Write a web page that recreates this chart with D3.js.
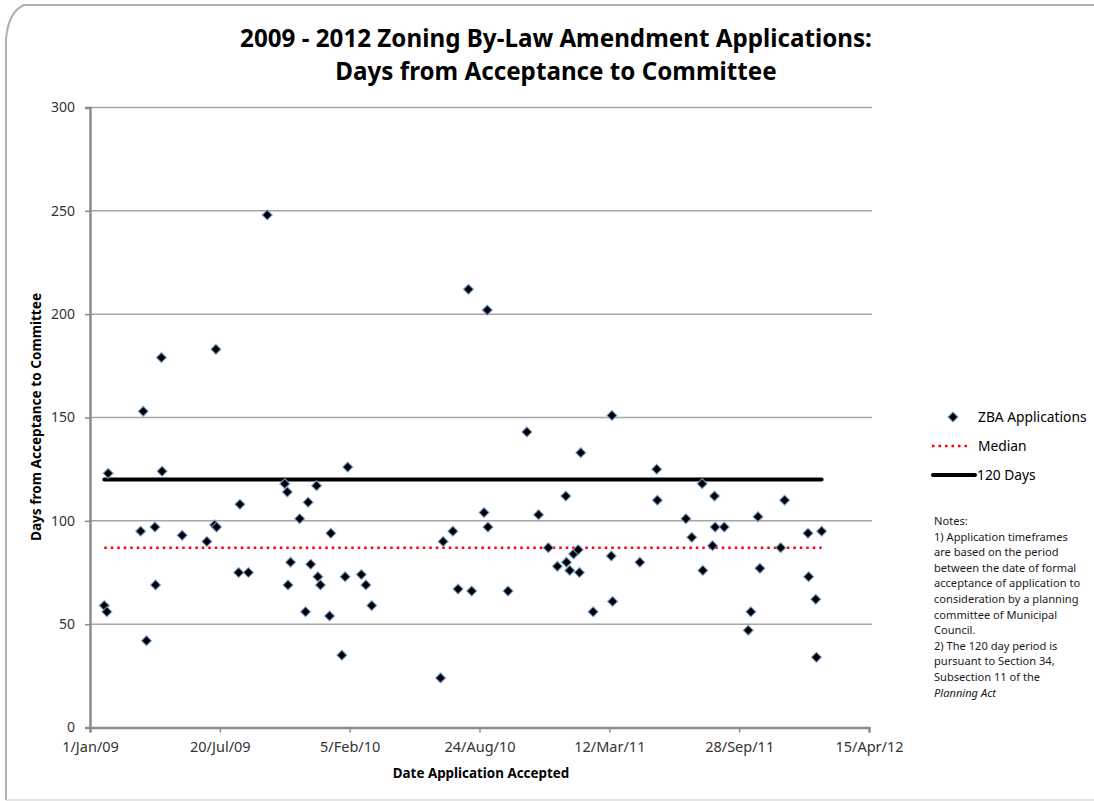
<!DOCTYPE html>
<html>
<head>
<meta charset="utf-8">
<script src="https://cdn.jsdelivr.net/npm/d3@7"></script>
<style>
  html, body { margin: 0; padding: 0; background: #fff; }
  svg { display: block; font-family: 'Noto Sans', sans-serif; }
</style>
</head>
<body>
<div id="chart"></div>
<script>
// Application acceptance dates and days to committee
const appDates = [
  '2009-01-23', '2009-01-27', '2009-01-29', '2009-03-20', '2009-03-24', '2009-03-29',
  '2009-04-11', '2009-04-12', '2009-04-22', '2009-04-21', '2009-05-23', '2009-06-30',
  '2009-07-12', '2009-07-15', '2009-07-14', '2009-08-20', '2009-08-18', '2009-09-02',
  '2009-10-01', '2009-10-28', '2009-11-01', '2009-11-06', '2009-11-02', '2009-11-20',
  '2009-12-03', '2009-12-16', '2009-11-29', '2009-12-07', '2009-12-18', '2009-12-22',
  '2010-01-07', '2010-01-05', '2010-02-02', '2010-01-29', '2010-01-24', '2010-02-23',
  '2010-03-02', '2010-03-11', '2010-06-25', '2010-06-29', '2010-07-14', '2010-07-22',
  '2010-08-12', '2010-08-07', '2010-08-31', '2010-09-06', '2010-09-05', '2010-10-07',
  '2010-11-05', '2010-11-23', '2010-12-08', '2010-12-22', '2011-01-04', '2011-01-05',
  '2011-01-10', '2011-01-16', '2011-01-23', '2011-01-25', '2011-01-27', '2011-02-15',
  '2011-03-16', '2011-03-15', '2011-03-17', '2011-04-28', '2011-05-24', '2011-05-25',
  '2011-07-08', '2011-07-17', '2011-08-02', '2011-08-03', '2011-08-21', '2011-08-22',
  '2011-08-18', '2011-09-05', '2011-10-12', '2011-10-16', '2011-10-27', '2011-10-30',
  '2011-12-01', '2011-12-07', '2012-01-12', '2012-01-13', '2012-01-24', '2012-01-25',
  '2012-02-02'
];
const appDays = [
  59, 56, 123, 95, 153, 42,
  97, 69, 124, 179, 93, 90,
  98, 97, 183, 108, 75, 75,
  248, 118, 114, 80, 69, 101,
  109, 117, 56, 79, 73, 69,
  94, 54, 126, 73, 35, 74,
  69, 59, 24, 90, 95, 67,
  66, 212, 104, 97, 202, 66,
  143, 103, 87, 78, 112, 80,
  76, 84, 86, 75, 133, 56,
  151, 83, 61, 80, 125, 110,
  101, 92, 118, 76, 112, 97,
  88, 97, 47, 56, 102, 77,
  87, 110, 94, 73, 62, 34,
  95
];
const medianDays = 87;
const targetDays = 120;

const xTickDates = ['2009-01-01', '2009-07-20', '2010-02-05', '2010-08-24', '2011-03-12', '2011-09-28', '2012-04-15'];
const yTicks = [0, 50, 100, 150, 200, 250, 300];

const titleLines = ['2009 - 2012 Zoning By-Law Amendment Applications:', 'Days from Acceptance to Committee'];
const legendLabels = ['ZBA Applications', 'Median', '120 Days'];
const noteLines = [
  'Notes:',
  '1) Application timeframes',
  'are based on the period',
  'between the date of formal',
  'acceptance of application to',
  'consideration by a planning',
  'committee of Municipal',
  'Council.',
  '2) The 120 day period is',
  'pursuant to Section 34,',
  'Subsection 11 of the'
];
const noteItalic = 'Planning Act';

const W = 1094, H = 801;
const margin = { top: 107.5, left: 90, right: 225, bottom: 73.5 };
const parse = d3.timeParse('%Y-%m-%d');
const fmt = d3.timeFormat('%-d/%b/%y');

const points = appDates.map((d, i) => ({ date: parse(d), days: appDays[i] }));
const tickDates = xTickDates.map(parse);

const svg = d3.select('#chart').append('svg').attr('width', W).attr('height', H);

// outer frame
svg.append('path')
  .attr('d', `M6,${H - 1} L6,40 Q8,12 24,5 L${W},5`)
  .attr('fill', 'none').attr('stroke', '#b0b0b0').attr('stroke-width', 2);
svg.append('path')
  .attr('d', `M6,${H - 1} L${W},${H - 1}`)
  .attr('fill', 'none').attr('stroke', '#c8c8c8').attr('stroke-width', 1);

const x = d3.scaleTime()
  .domain([tickDates[0], tickDates[tickDates.length - 1]])
  .range([margin.left, W - margin.right]);
const y = d3.scaleLinear().domain([0, 300]).range([H - margin.bottom, margin.top]);

// title
svg.append('g').selectAll('text').data(titleLines).join('text')
  .attr('x', 556).attr('y', (d, i) => 47 + i * 33)
  .attr('text-anchor', 'middle')
  .attr('font-size', 24.2).attr('font-weight', 'bold').attr('fill', '#000')
  .text(d => d);

// gridlines
svg.append('g').selectAll('line').data(yTicks.filter(t => t > 0)).join('line')
  .attr('x1', margin.left).attr('x2', W - margin.right + 3)
  .attr('y1', d => y(d)).attr('y2', d => y(d))
  .attr('stroke', '#a6a6a6').attr('stroke-width', 1.5);

// y axis
const yAxis = svg.append('g')
  .attr('transform', `translate(${margin.left},0)`)
  .call(d3.axisLeft(y).tickValues(yTicks).tickSize(5).tickPadding(10));
yAxis.select('.domain').attr('stroke', '#8c8c8c').attr('stroke-width', 2.5);
yAxis.selectAll('.tick line').attr('stroke', '#8c8c8c').attr('stroke-width', 1.5);
yAxis.selectAll('.tick text').attr('font-size', 14).attr('fill', '#333').attr('font-family', 'Noto Sans');

// x axis
const xAxis = svg.append('g')
  .attr('transform', `translate(0,${y(0)})`)
  .call(d3.axisBottom(x).tickValues(tickDates).tickFormat(fmt).tickSize(5).tickPadding(9));
xAxis.select('.domain').attr('stroke', '#8c8c8c').attr('stroke-width', 2.5);
xAxis.selectAll('.tick line').attr('stroke', '#8c8c8c').attr('stroke-width', 1.5);
xAxis.selectAll('.tick text').attr('font-size', 14.5).attr('fill', '#333').attr('font-family', 'Noto Sans');

// axis titles
svg.append('text')
  .attr('x', 481).attr('y', 778)
  .attr('text-anchor', 'middle').attr('font-size', 13.4).attr('font-weight', 'bold')
  .text('Date Application Accepted');
svg.append('text')
  .attr('transform', 'translate(41,417) rotate(-90)')
  .attr('text-anchor', 'middle').attr('font-size', 13.6).attr('font-weight', 'bold')
  .text('Days from Acceptance to Committee');

// reference lines span the data range
const [d0, d1] = d3.extent(points, d => d.date);
svg.append('line')
  .attr('x1', x(d0)).attr('x2', x(d1))
  .attr('y1', y(medianDays)).attr('y2', y(medianDays))
  .attr('stroke', '#ff0000').attr('stroke-width', 2.5).attr('stroke-dasharray', '2.5,4');
svg.append('line')
  .attr('x1', x(d0)).attr('x2', x(d1))
  .attr('y1', y(targetDays)).attr('y2', y(targetDays))
  .attr('stroke', '#000').attr('stroke-width', 4).attr('stroke-linecap', 'round');

// diamonds
const diamond = d3.symbol().type(d3.symbolSquare).size(50);
svg.append('g').selectAll('path').data(points).join('path')
  .attr('d', diamond)
  .attr('transform', d => `translate(${x(d.date)},${y(d.days)}) rotate(45)`)
  .attr('fill', '#000').attr('stroke', '#7ea6d8').attr('stroke-width', 1.2).attr('stroke-opacity', 0.8);

// legend
const legend = svg.append('g');
legend.append('path')
  .attr('d', diamond)
  .attr('transform', 'translate(953,417) rotate(45)')
  .attr('fill', '#000').attr('stroke', '#7ea6d8').attr('stroke-width', 1.2);
legend.append('line')
  .attr('x1', 932).attr('x2', 970).attr('y1', 446).attr('y2', 446)
  .attr('stroke', '#ff0000').attr('stroke-width', 2.5).attr('stroke-dasharray', '2.5,4');
legend.append('line')
  .attr('x1', 933).attr('x2', 975).attr('y1', 475).attr('y2', 475)
  .attr('stroke', '#000').attr('stroke-width', 4).attr('stroke-linecap', 'round');
legend.selectAll('text').data(legendLabels).join('text')
  .attr('x', (d, i) => i === 2 ? 977 : 978)
  .attr('y', (d, i) => 422 + i * 29)
  .attr('font-size', 13.8).attr('fill', '#000')
  .text(d => d);

// notes
const notes = svg.append('text').attr('font-size', 11.1).attr('fill', '#1a1a1a');
noteLines.forEach((line, i) => {
  notes.append('tspan').attr('x', 934).attr('y', 525 + i * 15.6).text(line);
});
notes.append('tspan').attr('x', 934).attr('y', 525 + noteLines.length * 15.6)
  .attr('font-style', 'italic').text(noteItalic);
</script>
</body>
</html>
